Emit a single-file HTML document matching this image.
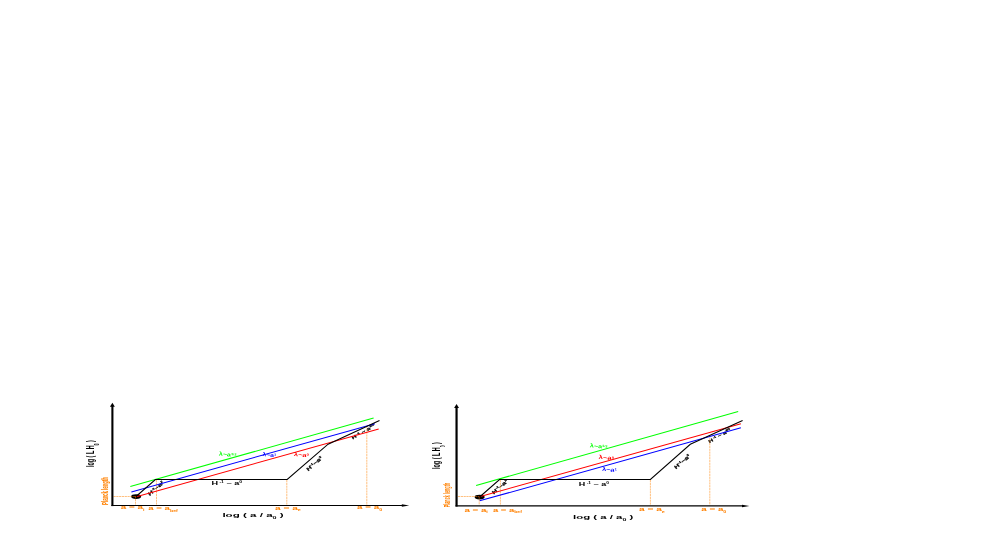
<!DOCTYPE html>
<html>
<head>
<meta charset="utf-8">
<style>
html,body{margin:0;padding:0;background:#ffffff;}
body{width:981px;height:545px;overflow:hidden;font-family:"Liberation Sans",sans-serif;}
svg{will-change:transform;display:block;position:absolute;left:0;top:0;}
text{font-family:"Liberation Sans",sans-serif;font-weight:bold;}
.od{stroke:#ff8000;stroke-width:0.5;fill:none;stroke-dasharray:2.2 0.6;}
.k{stroke:#000;stroke-width:1.05;fill:none;stroke-linejoin:miter;}
</style>
</head>
<body>
<svg width="981" height="545" viewBox="0 0 981 545">
<rect x="0" y="0" width="981" height="545" fill="#ffffff"/>
<g id="left">
  <g transform="translate(222.40 516.90) scale(0.1161 0.0580)"><text x="0" y="0" font-size="100" fill="#000"><tspan font-size="100">log ( a / a</tspan><tspan font-size="62" dy="38">0</tspan><tspan font-size="100" dy="-38"> )</tspan></text></g>
  <g transform="translate(93.80 467.00) rotate(-90.0) scale(0.0542 0.1110)"><text x="0" y="0" font-size="100" fill="#000"><tspan font-size="100">log ( L H</tspan><tspan font-size="67" dy="48">0</tspan><tspan font-size="100" dy="-48"> )</tspan></text></g>
  <g transform="translate(107.50 504.90) rotate(-90.0) scale(0.0428 0.0890)"><text x="0" y="0" font-size="100" fill="#ff8000" stroke="#ff8000" stroke-width="1.3"><tspan font-size="100">Planck length</tspan></text></g>
  <g transform="translate(120.70 509.20) scale(0.0986 0.0580)"><text x="0" y="0" font-size="100" fill="#ff8000"><tspan font-size="100">a = a</tspan><tspan font-size="55" dy="28">i</tspan></text></g>
  <g transform="translate(148.20 509.90) scale(0.0965 0.0580)"><text x="0" y="0" font-size="100" fill="#ff8000"><tspan font-size="100">a = a</tspan><tspan font-size="55" dy="28">bef</tspan></text></g>
  <g transform="translate(275.00 509.60) scale(0.1016 0.0580)"><text x="0" y="0" font-size="100" fill="#ff8000"><tspan font-size="100">a = a</tspan><tspan font-size="55" dy="28">e</tspan></text></g>
  <g transform="translate(357.00 509.40) scale(0.0985 0.0580)"><text x="0" y="0" font-size="100" fill="#ff8000"><tspan font-size="100">a = a</tspan><tspan font-size="55" dy="28">0</tspan></text></g>
  <g transform="translate(211.40 485.10) scale(0.0912 0.0470)"><text x="0" y="0" font-size="100" fill="#000"><tspan font-size="100">H</tspan><tspan font-size="55" dy="-42"> -1</tspan><tspan font-size="100" dy="42"> ~ a</tspan><tspan font-size="55" dy="-42">0</tspan></text></g>
  <g transform="translate(218.70 455.50) rotate(5.0) scale(0.0715 0.0540)"><text x="0" y="0" font-size="100" fill="#00ff00"><tspan font-size="100">λ~a</tspan><tspan font-size="55" dy="-28">1/2</tspan></text></g>
  <g transform="translate(262.20 456.10) rotate(5.0) scale(0.0689 0.0540)"><text x="0" y="0" font-size="100" fill="#0000ff"><tspan font-size="100">λ~a</tspan><tspan font-size="55" dy="-28">1</tspan></text></g>
  <g transform="translate(293.80 456.00) rotate(5.0) scale(0.0749 0.0540)"><text x="0" y="0" font-size="100" fill="#ff0000"><tspan font-size="100">λ~a</tspan><tspan font-size="55" dy="-28">0</tspan></text></g>
  <g transform="translate(308.20 471.30) rotate(-41.0) scale(0.0723 0.0500)"><text x="0" y="0" font-size="100" fill="#000" stroke="#000" stroke-width="4.4"><tspan font-size="100">H</tspan><tspan font-size="55" dy="-42">-1</tspan><tspan font-size="100" dy="42">~a</tspan><tspan font-size="55" dy="-42">2</tspan></text></g>
  <g transform="translate(352.80 439.60) rotate(-30.0) scale(0.0680 0.0440)"><text x="0" y="0" font-size="100" fill="#000" stroke="#000" stroke-width="5.0"><tspan font-size="100">H</tspan><tspan font-size="55" dy="-42"> -1</tspan><tspan font-size="100" dy="42"> ~ a</tspan><tspan font-size="55" dy="-42">3/2</tspan></text></g>
  <g transform="translate(149.80 496.00) rotate(-41.0) scale(0.0723 0.0500)"><text x="0" y="0" font-size="100" fill="#000" stroke="#000" stroke-width="4.4"><tspan font-size="100">H</tspan><tspan font-size="55" dy="-42">-1</tspan><tspan font-size="100" dy="42">~a</tspan><tspan font-size="55" dy="-42">2</tspan></text></g>
  <path class="od" d="M156.5 480V505"/>
  <path class="od" d="M286.8 480V505"/>
  <path class="od" d="M366.8 426V505"/>
  <ellipse cx="136.1" cy="496.6" rx="5.0" ry="2.3" fill="#000"/>
  <path d="M130.3 486.55L373.6 417.95" stroke="#00ff00" stroke-width="1.02" fill="none"/>
  <path d="M131.4 491.95L374.9 423.65" stroke="#0000ff" stroke-width="1.02" fill="none"/>
  <path d="M136.3 496.65L378.7 428.95" stroke="#ff0000" stroke-width="1.02" fill="none"/>
  <path class="od" d="M113.5 496.5H136"/>
  <path class="od" d="M135.5 496V505"/>
  <path class="k" d="M136 496.5L155.4 479.5H287.2L328.1 444.2L379.5 420.5"/>
  <path d="M112.4 506.1V405.8" stroke="#000" stroke-width="2.1" fill="none"/>
  <path d="M112.4 402.8L109.95 406.8H114.85Z" fill="#000"/>
  <path d="M111.4 505.5H403.2" stroke="#000" stroke-width="1.08" fill="none"/>
  <path d="M409.2 505.5L401.8 504.15V506.85Z" fill="#000"/>
</g>
<g id="right">
  <g transform="translate(573.00 518.60) scale(0.1142 0.0580)"><text x="0" y="0" font-size="100" fill="#000"><tspan font-size="100">log ( a / a</tspan><tspan font-size="62" dy="38">0</tspan><tspan font-size="100" dy="-38"> )</tspan></text></g>
  <g transform="translate(439.90 469.00) rotate(-90.0) scale(0.0547 0.1110)"><text x="0" y="0" font-size="100" fill="#000"><tspan font-size="100">log ( L H</tspan><tspan font-size="59" dy="45">0</tspan><tspan font-size="100" dy="-45"> )</tspan></text></g>
  <g transform="translate(450.30 507.30) rotate(-90.0) scale(0.0378 0.0860)"><text x="0" y="0" font-size="100" fill="#ff8000"><tspan font-size="100">Planck length</tspan></text></g>
  <g transform="translate(464.40 511.60) scale(0.0977 0.0580)"><text x="0" y="0" font-size="100" fill="#ff8000"><tspan font-size="100">a = a</tspan><tspan font-size="55" dy="28">i</tspan></text></g>
  <g transform="translate(492.90 511.60) scale(0.0946 0.0580)"><text x="0" y="0" font-size="100" fill="#ff8000"><tspan font-size="100">a = a</tspan><tspan font-size="55" dy="28">bef</tspan></text></g>
  <g transform="translate(638.90 511.20) scale(0.1020 0.0580)"><text x="0" y="0" font-size="100" fill="#ff8000"><tspan font-size="100">a = a</tspan><tspan font-size="55" dy="28">e</tspan></text></g>
  <g transform="translate(701.30 511.20) scale(0.0981 0.0580)"><text x="0" y="0" font-size="100" fill="#ff8000"><tspan font-size="100">a = a</tspan><tspan font-size="55" dy="28">0</tspan></text></g>
  <g transform="translate(578.80 485.60) scale(0.0900 0.0470)"><text x="0" y="0" font-size="100" fill="#000"><tspan font-size="100">H</tspan><tspan font-size="55" dy="-42"> -1</tspan><tspan font-size="100" dy="42"> ~ a</tspan><tspan font-size="55" dy="-42">0</tspan></text></g>
  <g transform="translate(589.80 447.30) rotate(5.0) scale(0.0715 0.0540)"><text x="0" y="0" font-size="100" fill="#00ff00"><tspan font-size="100">λ~a</tspan><tspan font-size="55" dy="-28">1/2</tspan></text></g>
  <g transform="translate(598.60 458.80) rotate(5.0) scale(0.0769 0.0540)"><text x="0" y="0" font-size="100" fill="#ff0000"><tspan font-size="100">λ~a</tspan><tspan font-size="55" dy="-28">0</tspan></text></g>
  <g transform="translate(601.90 470.70) rotate(5.0) scale(0.0744 0.0540)"><text x="0" y="0" font-size="100" fill="#0000ff"><tspan font-size="100">λ~a</tspan><tspan font-size="55" dy="-28">1</tspan></text></g>
  <g transform="translate(676.10 469.30) rotate(-41.0) scale(0.0723 0.0500)"><text x="0" y="0" font-size="100" fill="#000" stroke="#000" stroke-width="4.4"><tspan font-size="100">H</tspan><tspan font-size="55" dy="-42">-1</tspan><tspan font-size="100" dy="42">~a</tspan><tspan font-size="55" dy="-42">2</tspan></text></g>
  <g transform="translate(709.50 443.20) rotate(-30.0) scale(0.0654 0.0440)"><text x="0" y="0" font-size="100" fill="#000" stroke="#000" stroke-width="5.0"><tspan font-size="100">H</tspan><tspan font-size="55" dy="-42"> -1</tspan><tspan font-size="100" dy="42"> ~ a</tspan><tspan font-size="55" dy="-42">3/2</tspan></text></g>
  <g transform="translate(493.80 494.40) rotate(-41.0) scale(0.0723 0.0500)"><text x="0" y="0" font-size="100" fill="#000" stroke="#000" stroke-width="4.4"><tspan font-size="100">H</tspan><tspan font-size="55" dy="-42">-1</tspan><tspan font-size="100" dy="42">~a</tspan><tspan font-size="55" dy="-42">2</tspan></text></g>
  <path class="od" d="M500.4 480V505"/>
  <path class="od" d="M650.4 480V505"/>
  <path class="od" d="M709.8 437.5V505"/>
  <ellipse cx="479.6" cy="497.1" rx="5.0" ry="2.3" fill="#000"/>
  <path d="M476.1 485.45L738.2 411.55" stroke="#00ff00" stroke-width="1.02" fill="none"/>
  <path d="M479.6 500.85L740.9 427.85" stroke="#0000ff" stroke-width="1.02" fill="none"/>
  <path d="M479.4 496.85L740.9 423.65" stroke="#ff0000" stroke-width="1.02" fill="none"/>
  <path class="od" d="M458 496.5H479"/>
  <path class="od" d="M479.2 496.6V505"/>
  <path class="k" d="M479.6 497.0L499.5 479.5H650.4L690.3 444.3L742.6 420.4"/>
  <path d="M456.55 506.55V406.9" stroke="#000" stroke-width="2.2" fill="none"/>
  <path d="M456.55 403.9L454.1 407.9H459Z" fill="#000"/>
  <path d="M455.55 505.95H743.4" stroke="#000" stroke-width="1.25" fill="none"/>
  <path d="M749.4 505.95L742 504.75V507.15Z" fill="#000"/>
</g>
</svg>
</body>
</html>
